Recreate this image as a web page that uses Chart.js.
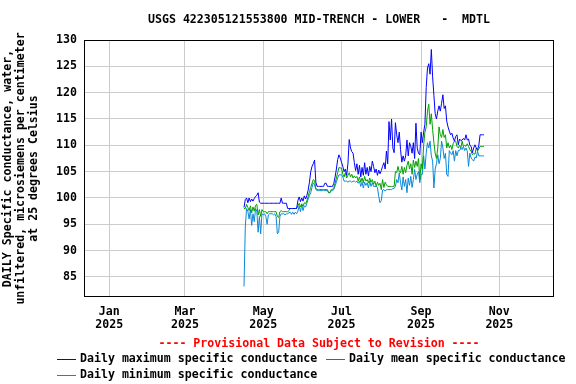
<!DOCTYPE html>
<html><head><meta charset="utf-8">
<script src="https://cdn.jsdelivr.net/npm/chart.js@4"></script>
<style>html,body{margin:0;padding:0;background:#fff}canvas{display:block}</style>
</head><body>
<canvas id="c" width="576" height="384"></canvas>
<script>
const chartTitle = 'USGS 422305121553800 MID-TRENCH - LOWER   -  MDTL';
const yTitle = ['DAILY Specific conductance, water,', 'unfiltered, microsiemens per centimeter', 'at 25 degrees Celsius'];
const provisional = '---- Provisional Data Subject to Revision ----';
const seriesNames = ['Daily maximum specific conductance', 'Daily mean specific conductance', 'Daily minimum specific conductance'];
const firstDataDay = 105; // 2025-04-16 as day offset from 2025-01-01
const monthTickDays = [0, 59, 120, 181, 243, 304];
const monthTickLabels = ['Jan', 'Mar', 'May', 'Jul', 'Sep', 'Nov'];
const tickYear = '2025';
const yTicks = [85, 90, 95, 100, 105, 110, 115, 120, 125, 130];

const dailyMax = [
98.2,99.7,100.0,99.1,100.0,99.3,99.8,99.4,99.9,100.3,
100.5,101.0,99.2,99.0,99.0,99.0,99.0,99.0,99.0,99.0,
99.0,99.0,99.0,99.0,99.0,99.0,99.0,99.0,99.0,100.0,
99.0,99.0,99.0,99.0,98.0,98.0,98.0,98.0,98.0,98.0,
98.0,98.0,99.5,100.2,99.3,100.0,99.4,100.4,99.8,100.5,
101.5,103.0,105.0,106.0,106.5,107.2,103.0,102.2,102.2,102.2,
102.2,102.2,102.2,102.8,102.8,102.2,102.2,102.2,102.2,102.2,
102.8,104.0,105.5,107.3,108.2,107.6,106.8,106.0,105.0,105.5,
104.3,106.5,111.1,109.5,108.8,108.5,106.7,105.2,106.5,104.5,
106.2,104.0,105.8,104.3,106.7,104.5,105.8,104.2,106.0,105.0,
107.0,106.0,104.8,105.5,104.3,105.3,104.6,105.2,106.0,106.7,
105.5,108.9,106.5,114.5,111.0,115.0,109.5,108.6,114.3,112.0,
110.5,112.5,109.2,106.8,108.0,107.0,108.0,111.0,108.0,110.5,
109.8,108.5,110.5,107.5,114.2,109.5,108.5,108.2,112.5,110.5,
112.5,114.0,121.0,124.7,125.5,123.5,128.2,123.0,119.5,116.0,
115.0,116.5,117.5,116.5,118.0,119.6,117.0,117.5,114.6,113.5,
112.7,112.0,112.3,111.4,110.8,111.7,112.0,110.1,111.2,110.9,
111.0,111.3,111.0,112.0,111.0,111.2,110.0,109.8,108.6,109.5,
110.1,109.5,109.2,110.0,112.0,112.0,112.0,112.0];

const dailyMean = [
98.0,98.0,98.8,98.2,97.6,98.5,97.2,98.3,97.5,98.6,
98.8,96.8,97.8,96.5,97.8,97.4,97.4,97.4,97.0,97.4,
97.4,97.4,97.4,97.4,97.4,97.4,96.5,96.3,97.4,97.6,
97.4,97.4,97.4,97.4,97.4,97.6,98.0,98.0,98.0,98.0,
98.0,98.0,98.5,99.0,98.3,98.9,98.4,99.1,98.9,99.5,
100.3,101.2,102.0,102.8,103.5,103.3,101.8,101.6,101.6,101.6,
101.6,101.6,101.6,101.6,101.6,101.6,101.0,101.0,101.6,101.6,
102.0,102.8,103.8,104.8,105.8,105.7,105.7,104.5,104.0,104.8,
103.8,104.3,104.8,104.0,104.5,103.8,104.2,103.8,104.1,103.2,
104.0,103.0,103.8,102.9,104.1,103.2,103.5,102.9,103.8,103.0,
103.5,102.6,103.2,102.2,103.0,102.4,102.8,101.6,103.5,102.0,
103.0,102.5,102.2,102.2,102.2,102.2,102.2,102.2,105.0,104.8,
106.0,105.0,104.8,106.0,104.5,105.8,104.8,106.2,107.0,105.5,
106.5,104.5,107.2,105.8,107.0,106.0,107.5,103.5,106.5,105.5,
110.0,112.5,113.5,116.5,117.8,114.0,116.0,113.0,110.5,108.5,
107.5,109.5,113.5,112.0,111.5,113.0,111.5,112.0,109.5,110.5,
109.5,110.0,109.2,110.3,110.8,110.8,109.8,109.5,110.0,109.5,
110.8,109.8,110.0,109.8,110.3,109.8,109.2,108.9,108.2,108.5,
108.3,109.5,108.9,109.3,109.8,109.8,109.8,109.8];

const dailyMin = [
83.2,94.5,98.0,97.5,96.0,97.8,94.8,97.0,95.5,98.0,
97.5,93.5,96.5,93.2,97.0,96.8,97.0,96.5,95.0,96.8,
97.0,97.0,97.0,96.8,97.0,96.5,93.2,93.5,96.5,97.0,
97.0,97.0,96.8,97.0,97.0,97.2,97.3,96.9,97.3,96.9,
97.3,97.0,97.5,98.5,97.4,98.7,97.6,98.5,98.3,99.0,
99.8,100.5,101.0,102.0,102.9,102.5,101.6,101.4,101.4,101.4,
101.4,101.4,101.4,101.4,101.4,101.4,101.0,101.0,101.4,101.4,
101.6,102.3,103.0,103.8,104.4,104.4,104.4,104.0,103.2,103.2,
103.2,103.0,103.2,103.2,103.0,103.2,103.2,103.0,103.2,102.8,
103.2,102.2,103.0,101.9,103.0,102.4,102.9,101.9,103.2,102.2,
102.9,102.2,102.2,102.2,102.0,100.3,99.1,99.5,101.5,101.6,
101.3,101.6,101.6,101.6,101.6,101.6,101.8,101.8,102.2,103.5,
102.9,104.8,102.9,101.5,104.0,102.2,103.5,101.0,103.8,102.4,
104.1,102.0,103.5,105.4,103.5,104.5,105.0,102.9,104.5,104.5,
108.0,105.5,108.5,110.5,109.5,110.8,108.0,107.0,101.9,105.5,
106.5,108.2,106.5,107.5,110.8,109.5,107.5,108.5,104.5,104.1,
109.0,108.5,108.2,109.0,107.0,109.0,108.0,109.0,109.0,109.5,
109.2,109.8,109.0,109.5,108.9,106.0,108.5,107.6,107.3,107.0,
107.8,107.6,108.9,108.0,108.0,108.0,108.0,108.0];

const colors = ['#0000ff', '#00a000', '#0a88d8'];
const FAMILY = '"DejaVu Sans Mono", "Liberation Mono", monospace';
const FSIZE = 11.6;
const FONT = 'bold ' + FSIZE + 'px ' + FAMILY;

function toPoints(arr) { return arr.map((v, i) => ({ x: firstDataDay + i, y: v })); }

const deco = {
  id: 'deco',
  afterDraw(chart) {
    const { ctx, chartArea: a } = chart;
    ctx.save();
    ctx.strokeStyle = '#000'; ctx.lineWidth = 1;
    ctx.strokeRect(Math.round(a.left) + 0.5, Math.round(a.top) + 0.5, Math.round(a.right - a.left) - 1, Math.round(a.bottom - a.top) - 1);
    ctx.font = FONT; ctx.textBaseline = 'middle'; ctx.textAlign = 'center';
    const cx = (a.left + a.right) / 2;
    ctx.fillStyle = '#000';
    ctx.fillText(chartTitle, cx, 20);
    ctx.fillStyle = '#ff0000';
    ctx.fillText(provisional, cx, 344);
    const items = [[57, 359, 0], [326, 359, 1], [57, 375, 2]];
    ctx.textAlign = 'left';
    items.forEach(([x, y, k]) => {
      ctx.strokeStyle = colors[k]; ctx.lineWidth = 1;
      ctx.beginPath(); ctx.moveTo(x, y + 0.5); ctx.lineTo(x + 19, y + 0.5); ctx.stroke();
      ctx.fillStyle = '#000';
      ctx.fillText(seriesNames[k], x + 23, y);
    });
    ctx.restore();
  }
};

const tickFont = { family: FAMILY, size: FSIZE, weight: 'bold', lineHeight: '13px' };

new Chart(document.getElementById('c'), {
  type: 'line',
  data: {
    datasets: [dailyMax, dailyMean, dailyMin].map((arr, k) => ({
      label: seriesNames[k], data: toPoints(arr), borderColor: colors[k], backgroundColor: colors[k],
      borderWidth: 1, pointRadius: 0, tension: 0, fill: false
    }))
  },
  options: {
    responsive: false, animation: false, devicePixelRatio: 1,
    layout: { padding: { left: 0, right: 22, top: 40, bottom: 0 } },
    plugins: { legend: { display: false }, title: { display: false }, tooltip: { enabled: false } },
    scales: {
      x: {
        type: 'linear', min: -19.7, max: 346.6,
        afterBuildTicks: s => { s.ticks = monthTickDays.map(v => ({ value: v })); },
        afterFit: s => { s.height = 87; },
        grid: { color: '#cccccc', drawTicks: false },
        border: { display: false },
        ticks: {
          padding: 8, color: '#000', font: tickFont, maxRotation: 0, autoSkip: false,
          callback: v => { const k = monthTickDays.indexOf(v); return k < 0 ? '' : [monthTickLabels[k], tickYear]; }
        }
      },
      y: {
        type: 'linear', min: 81.2, max: 130,
        afterBuildTicks: s => { s.ticks = yTicks.map(v => ({ value: v })); },
        afterFit: s => { s.width = 84; },
        grid: { color: '#cccccc', drawTicks: false },
        border: { display: false },
        ticks: { padding: 7, color: '#000', font: tickFont },
        title: { display: true, text: yTitle, color: '#000', font: tickFont, padding: { top: 1, bottom: 0 } }
      }
    }
  },
  plugins: [deco]
});
</script>
</body></html>
